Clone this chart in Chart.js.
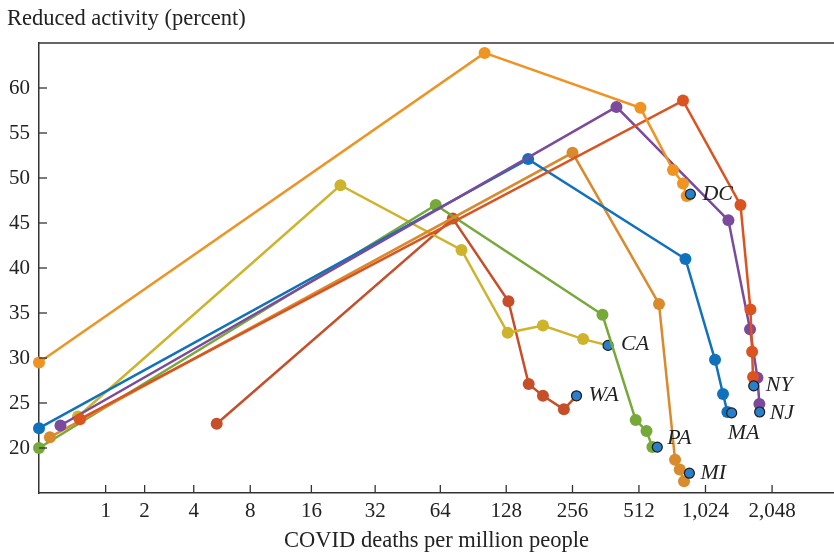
<!DOCTYPE html>
<html>
<head>
<meta charset="utf-8">
<script src="https://cdn.jsdelivr.net/npm/chart.js@4/dist/chart.umd.min.js"></script>
<style>
  html, body { margin: 0; padding: 0; background: #fff; }
  #wrap { width: 834px; height: 553px; overflow: hidden; }
</style>
</head>
<body>
<div id="wrap"><canvas id="activityChart" width="834" height="553"></canvas></div>
<script>
// deaths per million (x) and reduced activity in percent (y), one pair per state
const states = ['DC', 'NY', 'NJ', 'MA', 'MI', 'PA', 'CA', 'WA'];

const dcDeaths = [0, 102, 520, 730, 810, 842, 875];
const dcActivity = [29.5, 63.9, 57.8, 50.9, 49.4, 48.0, 48.2];

const nyDeaths = [0.53, 810, 1474, 1635, 1664, 1680, 1692];
const nyActivity = [23.2, 58.6, 47.0, 35.4, 30.7, 27.9, 26.9];

const njDeaths = [0.25, 405, 1300, 1628, 1759, 1795, 1800];
const njActivity = [22.5, 57.9, 45.3, 33.2, 27.8, 24.9, 24.0];

const maDeaths = [0, 161, 831, 1131, 1229, 1286, 1345];
const maActivity = [22.2, 52.1, 41.0, 29.8, 26.0, 24.0, 23.9];

const miDeaths = [0.12, 256, 631, 746, 783, 819, 866];
const miActivity = [21.2, 52.8, 36.0, 18.7, 17.6, 16.3, 17.2];

const paDeaths = [0, 61, 350, 495, 554, 589, 620];
const paActivity = [20.0, 47.0, 34.8, 23.1, 21.9, 20.1, 20.1];

const caDeaths = [0.5, 22, 80, 130, 188, 286, 371];
const caActivity = [23.5, 49.2, 42.0, 32.8, 33.6, 32.1, 31.4];

const waDeaths = [5.35, 73, 131, 162, 188, 234, 267];
const waActivity = [22.7, 45.5, 36.3, 27.1, 25.8, 24.3, 25.8];

const xTickValues = [1, 2, 4, 8, 16, 32, 64, 128, 256, 512, 1024, 2048];
const yTickValues = [20, 25, 30, 35, 40, 45, 50, 55, 60];

const colors = {
    DC: '#EF9322', NY: '#DA5321', NJ: '#7B4A9C', MA: '#1071BC',
    MI: '#D98A2C', PA: '#77A93A', CA: '#CEB42C', WA: '#C64F29'
};
const LAST_FILL = '#2A7FCB';
// label offset from each state's last point (pixels)
const labelOffsets = {
    DC: [12, 0], NY: [12, -1], NJ: [10, 1], MA: [-4, 20],
    MI: [11, 0], PA: [10, -9], CA: [13, -1], WA: [12, -1]
};

const series = {
    DC: [dcDeaths, dcActivity], NY: [nyDeaths, nyActivity], NJ: [njDeaths, njActivity],
    MA: [maDeaths, maActivity], MI: [miDeaths, miActivity], PA: [paDeaths, paActivity],
    CA: [caDeaths, caActivity], WA: [waDeaths, waActivity]
};

// x axis is log2(1 + deaths)
const toX = d => Math.log2(1 + d);
const SERIF = '"Liberation Serif", "DejaVu Serif", serif';

const datasets = states.map(s => {
    const [xs, ys] = series[s];
    const last = xs.length - 1;
    return {
        label: s,
        data: xs.map((d, i) => ({ x: toX(d), y: ys[i] })),
        borderColor: colors[s],
        borderWidth: 2.5,
        clip: false,
        pointRadius: xs.map((_, i) => i === last ? 5 : 6),
        pointBackgroundColor: xs.map((_, i) => i === last ? LAST_FILL : colors[s]),
        pointBorderColor: xs.map((_, i) => i === last ? '#1c1c1c' : colors[s]),
        pointBorderWidth: xs.map((_, i) => i === last ? 1.2 : 0),
        tension: 0
    };
});

const decorations = {
    id: 'decorations',
    afterDraw(chart) {
        const { ctx, chartArea, scales } = chart;
        ctx.save();
        ctx.strokeStyle = '#333';
        ctx.lineWidth = 1.5;
        // top frame line
        ctx.beginPath();
        ctx.moveTo(chartArea.left, chartArea.top);
        ctx.lineTo(chartArea.right + 2, chartArea.top);
        ctx.stroke();
        // inward tick marks
        ctx.lineWidth = 1.3;
        yTickValues.forEach(v => {
            const y = scales.y.getPixelForValue(v);
            ctx.beginPath();
            ctx.moveTo(chartArea.left, y);
            ctx.lineTo(chartArea.left + 8, y);
            ctx.stroke();
        });
        xTickValues.forEach(v => {
            const x = scales.x.getPixelForValue(toX(v));
            ctx.beginPath();
            ctx.moveTo(x, chartArea.bottom);
            ctx.lineTo(x, chartArea.bottom - 8);
            ctx.stroke();
        });
        // y axis title
        ctx.fillStyle = '#222';
        ctx.font = '22.5px ' + SERIF;
        ctx.textBaseline = 'middle';
        ctx.textAlign = 'left';
        ctx.fillText('Reduced activity (percent)', 7, 19);
        // state labels
        ctx.font = 'italic 22px ' + SERIF;
        states.forEach((s, i) => {
            const pts = chart.getDatasetMeta(i).data;
            const p = pts[pts.length - 1];
            const [dx, dy] = labelOffsets[s];
            ctx.fillText(s, p.x + dx, p.y + dy);
        });
        ctx.restore();
    }
};

new Chart(document.getElementById('activityChart').getContext('2d'), {
    type: 'line',
    data: { datasets },
    options: {
        responsive: false,
        animation: false,
        layout: { autoPadding: false, padding: { top: 43, left: 0, right: 0, bottom: 0 } },
        plugins: {
            legend: { display: false },
            tooltip: { enabled: false }
        },
        scales: {
            x: {
                type: 'linear',
                min: 0,
                max: 11.93,
                grid: { drawOnChartArea: false, drawTicks: false },
                border: { color: '#333', width: 1.5 },
                afterBuildTicks: axis => {
                    axis.ticks = xTickValues.map(v => ({ value: toX(v) }));
                },
                afterFit: axis => {
                    axis.height = 60;
                    axis.paddingLeft = 0;
                    axis.paddingRight = 0;
                },
                ticks: {
                    padding: 6,
                    color: '#222',
                    font: { family: SERIF, size: 21 },
                    maxRotation: 0,
                    autoSkip: false,
                    callback: value => Math.round(Math.pow(2, value) - 1).toLocaleString('en-US')
                },
                title: {
                    display: true,
                    text: 'COVID deaths per million people',
                    color: '#222',
                    font: { family: SERIF, size: 22.5 },
                    padding: { top: 0, bottom: -2 }
                }
            },
            y: {
                type: 'linear',
                min: 15,
                max: 65,
                grid: { drawOnChartArea: false, drawTicks: false },
                border: { color: '#333', width: 1.5 },
                afterBuildTicks: axis => {
                    axis.ticks = yTickValues.map(v => ({ value: v }));
                },
                afterFit: axis => {
                    axis.width = 39;
                    axis.paddingTop = 0;
                    axis.paddingBottom = 0;
                },
                ticks: {
                    padding: 9,
                    color: '#222',
                    font: { family: SERIF, size: 21 }
                }
            }
        }
    },
    plugins: [decorations]
});
</script>
</body>
</html>
